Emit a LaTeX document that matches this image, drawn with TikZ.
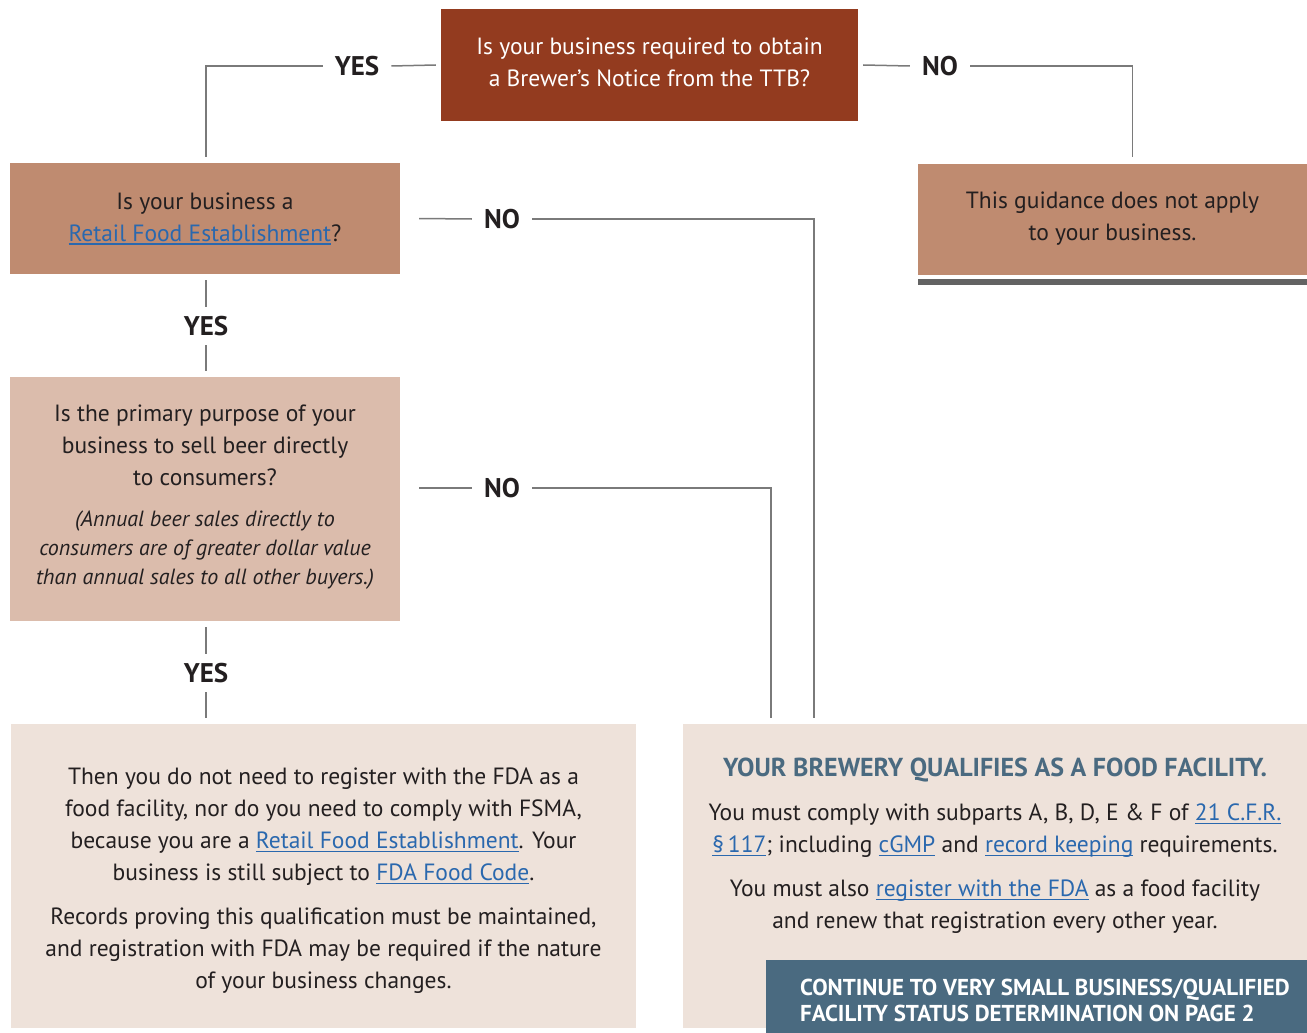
\documentclass[tikz,border=0pt]{standalone}
\usepackage{fontspec}
\setmainfont{PT Sans}
\usetikzlibrary{calc}
\definecolor{rust}{HTML}{933B1F}
\definecolor{tan}{HTML}{BF8B70}
\definecolor{sand}{HTML}{DBBCAC}
\definecolor{blush}{HTML}{EEE2DA}
\definecolor{slate}{HTML}{4A6A80}
\definecolor{ink}{HTML}{231F20}
\definecolor{wire}{HTML}{7A7A7A}
\definecolor{bar}{HTML}{636363}
\definecolor{linkblue}{HTML}{2A68AE}
\newsavebox{\linkbox}
\newcommand{\weblink}[1]{\textcolor{linkblue}{\sbox{\linkbox}{#1}\rlap{\rule[-3.5pt]{\wd\linkbox}{1.3pt}}\usebox{\linkbox}}}

\begin{document}
\begin{tikzpicture}[
        x=1pt, y=-1pt,
        font=\fontsize{23.5}{32}\selectfont,
        text=ink,
        box/.style={inner sep=0pt, align=center},
        question/.style={box, fill=tan, minimum width=390pt, minimum height=111pt},
        outcome/.style={box, fill=blush, minimum width=625pt, minimum height=304pt},
        answer/.style={font=\fontsize{27}{30}\selectfont\bfseries, inner xsep=12pt, inner ysep=9pt},
        link/.style={draw=wire, line width=1.5pt}
    ]
        \useasboundingbox (0,0) rectangle (1307,1033);
        % question boxes
        \node[box, fill=rust, minimum width=417pt, minimum height=112pt] (ttb) at (649.5,65) {};
        \node[box, text=white] (ttbtext) at (649.5,62) {Is your business required to obtain\\a Brewer’s Notice from the TTB?};
        \node[question] (retail) at (205,218.5) {Is your business a\\\weblink{Retail Food Establishment}?};
        \node[question, minimum width=389pt] (noapply) at (1112.5,219) {This guidance does not apply\\to your business.};
        \fill[bar] ($(noapply.south west)+(0,4)$) rectangle ($(noapply.south east)+(0,10)$);
        \node[question, fill=sand, minimum height=244pt] (consumer) at (205,499)
            {Is the primary purpose of your\\business to sell beer directly\\to consumers?\\[9pt]
            {\fontsize{22}{29}\selectfont\itshape\begin{tabular}[t]{@{}c@{}}(Annual beer sales directly to\\
            consumers are of greater dollar value\\than annual sales to all other buyers.)\end{tabular}}};
        % outcome boxes
        \node[outcome] (retailok) at (323.5,876) {};
        \node[box] (retailoktext) at (323.5,881)
            {Then you do not need to register with the FDA as a\\food facility, nor do you need to comply with FSMA,\\
            because you are a \weblink{Retail Food Establishment}. Your\\business is still subject to \weblink{FDA Food Code}.\\[12pt]
            Records proving this qualification must be maintained,\\and registration with FDA may be required if the nature\\of your business changes.};
        \node[outcome, minimum width=624pt] (facility) at (995,876) {};
        \node[box] (facilitytext) at (995,846)
            {{\fontsize{26}{30}\selectfont\bfseries\color{slate}YOUR BREWERY QUALIFIES AS A FOOD FACILITY.}\\[12pt]
            You must comply with subparts A, B, D, E \& F of \weblink{21 C.F.R.}\\
            \weblink{\S\,117}; including \weblink{cGMP} and \weblink{record keeping} requirements.\\[12pt]
            You must also \weblink{register with the FDA} as a food facility\\and renew that registration every other year.};
        \node[box, fill=slate, anchor=north west, minimum width=541pt, minimum height=73pt] (continue) at (766,960) {};
        \node[box, align=left, anchor=west, text=white, font=\fontsize{23}{26}\selectfont\bfseries] (continuetext)
            at ($(continue.west)+(34,4)$) {CONTINUE TO VERY SMALL BUSINESS/QUALIFIED\\FACILITY STATUS DETERMINATION ON PAGE 2};
        % answers
        \node[answer] (yes1) at (357,66) {YES};
        \node[answer] (no1) at (940,66) {NO};
        \node[answer] (no2) at (502,219) {NO};
        \node[answer] (yes2) at (206,326) {YES};
        \node[answer] (no3) at (502,488) {NO};
        \node[answer] (yes3) at (206,673) {YES};
        % connectors
        \draw[link] ([xshift=-5pt]ttb.west) -- (yes1.east);
        \draw[link] (yes1.west) -| ([xshift=1pt,yshift=6pt]retail.north);
        \draw[link] ([xshift=5pt]ttb.east) -- (no1.west);
        \draw[link] (no1.east) -| ([xshift=20pt,yshift=6pt]noapply.north);
        \draw[link] ([xshift=19pt]retail.east) -- (no2.west);
        \draw[link] (no2.east) -| ([xshift=131pt,yshift=6pt]facility.north west);
        \draw[link] ([xshift=1pt,yshift=-6pt]retail.south) -- (yes2.north);
        \draw[link] (yes2.south) -- ([xshift=1pt,yshift=6pt]consumer.north);
        \draw[link] ([xshift=19pt]consumer.east |- no3.west) -- (no3.west);
        \draw[link] (no3.east) -| ([xshift=88pt,yshift=6pt]facility.north west);
        \draw[link] ([xshift=1pt,yshift=-6pt]consumer.south) -- (yes3.north);
        \draw[link] (yes3.south) -- ([yshift=6pt]yes3.south |- retailok.north);
    \end{tikzpicture}
\end{document}
